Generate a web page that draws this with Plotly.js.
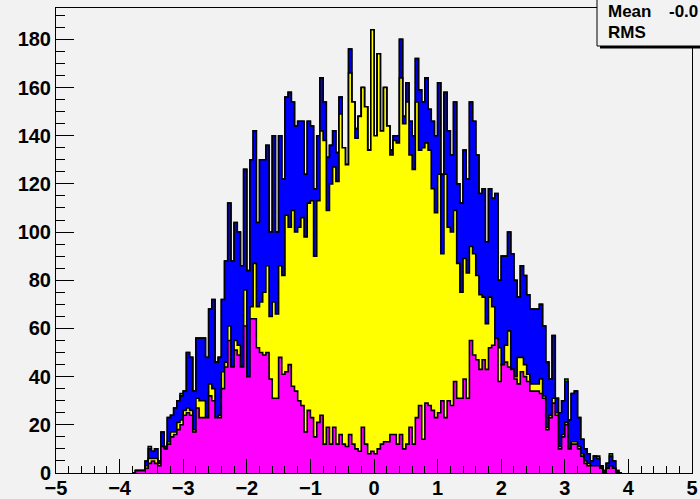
<!DOCTYPE html>
<html>
<head>
<meta charset="utf-8">
<script src="https://cdn.plot.ly/plotly-3.0.1.min.js"></script>
<style>
  html, body { margin: 0; padding: 0; background: #f2f2f2; }
  #chart { width: 700px; height: 499px; }
</style>
</head>
<body>
<div id="chart"></div>
<script>
// Histogram binning: 0.05-wide bins, first listed bin starts at x = -3.8
const BIN_START = -3.8;
const BIN_WIDTH = 0.05;

// Per-histogram bin contents (stack order: magenta, yellow, blue, green)
const magentaCounts = [
  0,1,1,1,2,4,5,4,3,11,
  10,12,15,16,18,20,24,25,24,17,
  27,23,23,23,32,30,23,23,35,44,
  55,44,51,49,44,61,40,64,64,52,
  50,49,50,39,31,31,48,41,42,45,
  36,34,30,28,17,26,23,15,21,24,
  12,19,12,19,12,16,12,11,16,12,
  10,9,19,12,8,9,8,10,12,13,
  13,16,16,12,16,10,12,19,12,23,
  28,14,29,28,26,23,25,30,23,30,
  28,38,31,31,39,31,55,49,47,43,
  47,43,52,53,56,38,45,46,44,43,
  39,37,42,40,38,34,34,34,33,31,
  18,23,29,24,10,15,20,10,12,12,
  10,7,4,3,3,3,3,2,0,2,
  3,2,0,0
];

const yellowCounts = [
  0,0,0,0,1,2,1,2,1,0,
  0,1,2,1,3,2,2,2,2,1,
  4,7,7,0,5,5,0,1,7,2,
  6,0,4,4,0,15,0,5,23,17,
  21,26,36,26,40,35,38,41,65,57,
  73,66,72,78,81,86,90,75,92,118,
  126,90,108,108,109,133,123,117,150,142,
  129,139,141,140,126,175,132,164,130,147,
  131,116,122,125,148,135,142,113,114,131,
  106,121,108,106,92,85,99,61,101,72,
  72,71,56,44,50,52,39,42,35,31,
  26,19,21,16,0,14,0,7,15,0,
  1,11,6,5,3,3,3,3,6,1,
  1,1,2,1,1,1,1,0,1,1,
  1,1,1,1,0,0,0,0,0,0,
  0,0,0,0
];

const blueCounts = [
  0,0,0,0,2,4,3,4,1,6,
  1,10,7,10,9,10,8,23,22,16,
  25,26,26,25,31,37,23,24,30,42,
  51,44,49,47,42,50,44,61,55,35,
  59,55,50,35,69,34,54,40,49,56,
  45,44,44,40,26,34,31,28,27,22,
  16,22,16,15,12,7,0,0,10,0,
  4,0,0,0,0,0,0,0,0,0,
  0,2,2,3,16,3,8,14,14,18,
  25,19,27,17,28,32,38,33,34,40,
  32,45,33,37,45,39,60,55,50,42,
  45,34,45,45,60,28,45,37,41,48,
  40,25,38,37,33,31,31,31,31,29,
  27,15,26,6,14,14,17,12,20,21,
  12,6,5,4,2,4,3,1,1,2,
  4,3,1,0
];

const greenCounts = [
  0,0,0,0,0,1,0,0,0,0,
  0,0,0,0,0,1,0,0,0,0,
  0,0,0,0,0,0,0,0,0,0,
  0,0,0,0,0,0,0,0,0,0,
  0,0,0,0,0,0,0,0,0,0,
  0,0,0,0,0,0,0,0,0,0,
  0,0,0,0,0,0,0,0,0,0,
  0,0,0,0,0,0,0,0,0,0,
  0,0,0,0,0,0,0,0,0,0,
  0,0,0,0,0,0,0,0,0,0,
  0,0,0,0,0,0,0,0,0,0,
  0,0,0,0,0,0,0,0,0,0,
  0,0,0,0,0,0,0,0,0,0,
  0,0,0,0,0,0,1,0,0,0,
  0,0,0,0,0,0,1,0,0,0,
  1,0,0,0
];

const statNames = ['Mean', 'RMS'];
const statMeanText = '-0.0';

// Running sums for the stacked drawing
function addArrays(a, b) { return a.map((v, i) => v + b[i]); }
const stackMagenta = magentaCounts.slice();
const stackYellow = addArrays(stackMagenta, yellowCounts);
const stackBlue = addArrays(stackYellow, blueCounts);
const stackGreen = addArrays(stackBlue, greenCounts);

// Outline of a histogram as an hv step path closed to zero at both ends
function stepPath(counts) {
  const x = [BIN_START], y = [0];
  counts.forEach((c, i) => { x.push(BIN_START + i * BIN_WIDTH); y.push(c); });
  x.push(BIN_START + counts.length * BIN_WIDTH); y.push(0);
  return { x, y };
}

function histTrace(counts, color) {
  const p = stepPath(counts);
  return {
    type: 'scatter', mode: 'lines', x: p.x, y: p.y,
    line: { shape: 'hv', color: '#000000', width: 1.6 },
    fill: 'tozeroy', fillcolor: color, hoverinfo: 'skip'
  };
}

// Drawn from the full stack downwards, so each layer covers the one below
const traces = [
  histTrace(stackGreen, '#00ff00'),
  histTrace(stackBlue, '#0000ff'),
  histTrace(stackYellow, '#ffff00'),
  histTrace(stackMagenta, '#ff00ff')
];

const BG = '#f2f2f2';
const tickFont = { family: 'Liberation Sans, Arial, sans-serif', size: 20, color: '#000000', weight: 'bold' };
const statFont = { family: 'Liberation Sans, Arial, sans-serif', size: 17, color: '#000000', weight: 'bold' };

// Plot area: 56..692 px horizontally, 8..473 px vertically
const L = 56, R = 692, T = 8, B = 473;
const px = v => (v - L) / (R - L);
const py = v => (B - v) / (B - T);

const layout = {
  width: 700, height: 499,
  margin: { l: L, r: 700 - R, t: T, b: 499 - B, pad: 0 },
  paper_bgcolor: BG, plot_bgcolor: BG,
  showlegend: false,
  xaxis: {
    range: [-5, 5], tick0: -5, dtick: 1,
    ticks: 'inside', ticklen: 14, tickwidth: 1, tickcolor: '#000000',
    minor: { dtick: 0.2, ticks: 'inside', ticklen: 7, tickwidth: 1, tickcolor: '#000000', showgrid: false },
    showline: true, linecolor: '#000000', linewidth: 1, mirror: true,
    showgrid: false, zeroline: false, tickfont: tickFont, fixedrange: true,
    ticklabelstandoff: -3
  },
  yaxis: {
    range: [0, 193], tick0: 0, dtick: 20,
    ticks: 'inside', ticklen: 18, tickwidth: 1, tickcolor: '#000000',
    minor: { dtick: 5, ticks: 'inside', ticklen: 9, tickwidth: 1, tickcolor: '#000000', showgrid: false },
    showline: true, linecolor: '#000000', linewidth: 1, mirror: true,
    showgrid: false, zeroline: false, tickfont: tickFont, fixedrange: true
  },
  shapes: [
    // statistics box shadow and frame
    { type: 'rect', xref: 'paper', yref: 'paper', layer: 'above',
      x0: px(600), x1: px(710), y0: py(48.5), y1: py(46),
      fillcolor: '#000000', line: { width: 0 } },
    { type: 'rect', xref: 'paper', yref: 'paper', layer: 'above',
      x0: px(597), x1: px(710), y0: py(46), y1: py(-10),
      fillcolor: BG, line: { color: '#000000', width: 1 } }
  ],
  annotations: [
    { xref: 'paper', yref: 'paper', x: px(606), y: py(12), xanchor: 'left', yanchor: 'middle',
      text: statNames[0], showarrow: false, font: statFont },
    { xref: 'paper', yref: 'paper', x: px(606), y: py(32), xanchor: 'left', yanchor: 'middle',
      text: statNames[1], showarrow: false, font: statFont },
    { xref: 'paper', yref: 'paper', x: px(667), y: py(12), xanchor: 'left', yanchor: 'middle',
      text: statMeanText, showarrow: false, font: statFont }
  ]
};

Plotly.newPlot('chart', traces, layout, { staticPlot: true, displayModeBar: false });
</script>
</body>
</html>
